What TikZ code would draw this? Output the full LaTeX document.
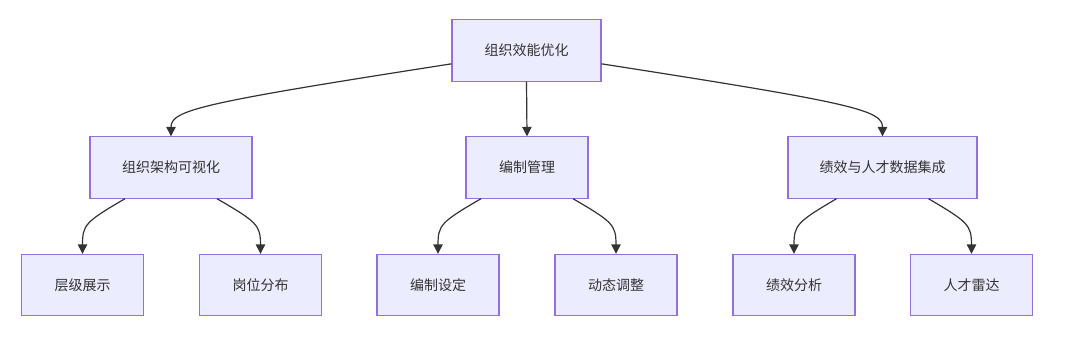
\documentclass[tikz,border=0pt]{standalone}
\usepackage{fontspec}
\setmainfont{Noto Sans CJK SC}
\usetikzlibrary{arrows.meta}
\definecolor{nodefill}{HTML}{ECECFF}
\definecolor{nodeline}{HTML}{9370DB}
\definecolor{txt}{HTML}{333333}
\begin{document}
\begin{tikzpicture}[x=0.75pt,y=-0.75pt,
  box/.style={draw=nodeline,fill=nodefill,line width=0.8pt,text=txt,font=\fontsize{10.5pt}{12pt}\selectfont,minimum height=46pt,inner sep=0pt},
  w1/.style={minimum width=111.75pt},
  w2/.style={minimum width=121.5pt},
  w3/.style={minimum width=91.5pt},
  w4/.style={minimum width=141.75pt},
  edge/.style={draw=txt,line width=0.9pt,-{Triangle[length=7pt,width=7pt]}}]
\useasboundingbox (0,0) rectangle (1070,336);
\node[box,w1] (root) at (526.5,50.5) {组织效能优化};
\node[box,w2] (a) at (171,167.5) {组织架构可视化};
\node[box,w3] (b) at (527,167.5) {编制管理};
\node[box,w4] (c) at (882.5,167.5) {绩效与人才数据集成};
\node[box,w3] (a1) at (82.5,285) {层级展示};
\node[box,w3] (a2) at (260.5,285) {岗位分布};
\node[box,w3] (b1) at (438,285) {编制设定};
\node[box,w3] (b2) at (616,285) {动态调整};
\node[box,w3] (c1) at (794,285) {绩效分析};
\node[box,w3] (c2) at (971.5,285) {人才雷达};
\draw[edge] ([yshift=-10pt]root.west) .. controls (200,103) and (171,110) .. (a.north);
\draw[edge] (root.south) -- (b.north);
\draw[edge] ([yshift=-10pt]root.east) .. controls (853,103) and (882.5,110) .. (c.north);
\draw[edge] ([xshift=-34.5pt]a.south) .. controls (85,222) and (82.5,225) .. (a1.north);
\draw[edge] ([xshift=34.5pt]a.south) .. controls (257,222) and (260.5,225) .. (a2.north);
\draw[edge] ([xshift=-34.5pt]b.south) .. controls (441,222) and (438,225) .. (b1.north);
\draw[edge] ([xshift=34.5pt]b.south) .. controls (613,222) and (616,225) .. (b2.north);
\draw[edge] ([xshift=-34.5pt]c.south) .. controls (797,222) and (794,225) .. (c1.north);
\draw[edge] ([xshift=34.5pt]c.south) .. controls (968,222) and (971.5,225) .. (c2.north);
\end{tikzpicture}
\end{document}
